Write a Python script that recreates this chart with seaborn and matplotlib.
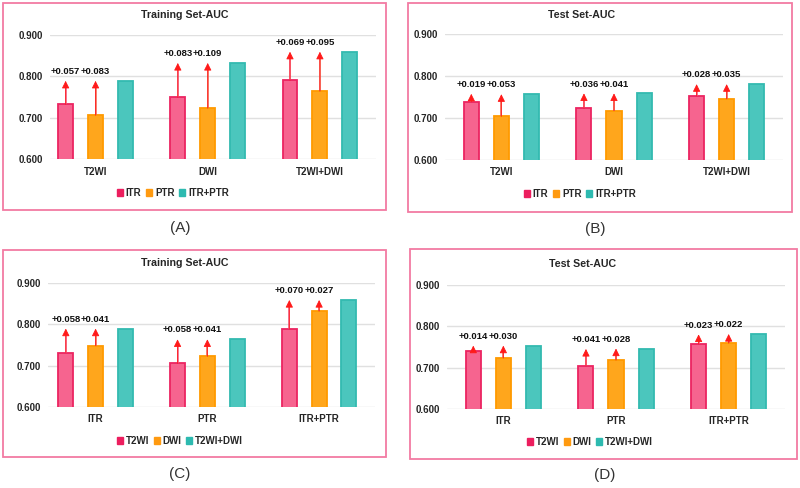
import numpy as np
import pandas as pd
import matplotlib
matplotlib.use("Agg")
import matplotlib.pyplot as plt
import seaborn as sns
from matplotlib.patches import Rectangle, Patch

# Panels A/B: grouped by sequence, series = radiomics region
seq_cats = ["T2WI", "DWI", "T2WI+DWI"]
region_series = ["ITR", "PTR", "ITR+PTR"]

train_itr = [0.732, 0.749, 0.790]
train_ptr = [0.706, 0.723, 0.764]
train_itr_ptr = [0.789, 0.832, 0.859]
train_itr_gain = [0.057, 0.083, 0.069]
train_ptr_gain = [0.083, 0.109, 0.095]

test_itr = [0.739, 0.723, 0.753]
test_ptr = [0.704, 0.718, 0.746]
test_itr_ptr = [0.757, 0.759, 0.781]
test_itr_gain = [0.019, 0.036, 0.028]
test_ptr_gain = [0.053, 0.041, 0.035]

# Panels C/D: grouped by region, series = sequence
region_cats = ["ITR", "PTR", "ITR+PTR"]
seq_series = ["T2WI", "DWI", "T2WI+DWI"]

train_t2wi = [0.732, 0.706, 0.789]
train_dwi = [0.749, 0.723, 0.832]
train_t2wi_dwi = [0.790, 0.764, 0.859]
train_t2wi_gain = [0.058, 0.058, 0.070]
train_dwi_gain = [0.041, 0.041, 0.027]

test_t2wi = [0.739, 0.704, 0.757]
test_dwi = [0.723, 0.718, 0.759]
test_t2wi_dwi = [0.753, 0.746, 0.781]
test_t2wi_gain = [0.014, 0.041, 0.023]
test_dwi_gain = [0.030, 0.028, 0.022]

yticks = [0.6, 0.7, 0.8, 0.9]

fills = ["#F6648F", "#FFA61C", "#4BC6BD"]
edges = ["#EC2461", "#FF9A00", "#33BAB0"]
legend_cols = ["#EC1E5E", "#FF9A10", "#2DBAB0"]
arrow_line = ["#F2537A", "#F4604A"]
grid_col = "#E0E0E0"
text_col = "#262626"

sns.set_theme(style="white")
plt.rcParams["font.family"] = ["Liberation Sans", "DejaVu Sans"]

fig = plt.figure(figsize=(8, 4.88), dpi=100)


def make_df(cats, series, values):
    rows = []
    for s, vals in zip(series, values):
        for c, v in zip(cats, vals):
            rows.append({"cat": c, "series": s, "auc": v})
    return pd.DataFrame(rows)


def draw_panel(rect, xlim, cats, series, values, gains, title, title_xy,
               legend_xy, cat_y, box, letter, letter_xy):
    ax = fig.add_axes(rect)
    df = make_df(cats, series, values)
    sns.barplot(data=df, x="cat", y="auc", hue="series", order=cats,
                hue_order=series, palette=fills, saturation=1, width=0.8,
                gap=0.5, ax=ax, legend=False, zorder=3)
    for i, cont in enumerate(ax.containers):
        for p in cont.patches:
            p.set_edgecolor(edges[i])
            p.set_linewidth(1.3)

    # improvement arrows on the two single-source series
    for i in range(2):
        for j, p in enumerate(ax.containers[i].patches):
            x = p.get_x() + p.get_width() / 2
            v = values[i][j]
            g = gains[i][j]
            ax.annotate("", xy=(x, v + g), xytext=(x, v),
                        arrowprops=dict(arrowstyle="-|>,head_length=0.5,head_width=0.25",
                                        edgecolor="#FF1A1A", facecolor="#FF1A1A",
                                        lw=0.6, mutation_scale=9,
                                        shrinkA=0, shrinkB=0), zorder=5)
            ax.vlines(x, v, v + g - 0.008, color=arrow_line[i], lw=1.1, zorder=4)
            ax.annotate(f"+{g:.3f}", xy=(x, v + g), xytext=(0, 3.5),
                        textcoords="offset points", ha="center", va="bottom",
                        fontsize=6.8, fontweight="bold", color="#111111")

    ax.set_ylim(0.6, 0.9)
    ax.set_xlim(*xlim)
    ax.set_yticks(yticks)
    ax.set_yticklabels([f"{t:.3f}" for t in yticks], fontsize=7,
                       fontweight="bold", color=text_col)
    ax.yaxis.grid(True, color=grid_col, lw=1, zorder=0)
    ax.set_axisbelow(True)
    ax.tick_params(axis="y", length=0, pad=5)
    ax.set_xticks([])
    ax.set_xlabel("")
    ax.set_ylabel("")
    sns.despine(ax=ax, left=True, bottom=True)
    ax.patch.set_alpha(0)

    # category labels below the baseline
    for k, c in enumerate(cats):
        xf = ax.transData.transform((k, 0.6))[0] / fig.bbox.width
        fig.text(xf, 1 - cat_y / 488, c, ha="center", va="center",
                 fontsize=7, fontweight="bold", color=text_col)

    fig.text(title_xy[0] / 800, 1 - title_xy[1] / 488, title, ha="center",
             va="center", fontsize=7.7, fontweight="bold", color=text_col)

    handles = [Patch(facecolor=legend_cols[i], edgecolor=legend_cols[i],
                     label=series[i]) for i in range(3)]
    ax.legend(handles=handles, loc="center",
              bbox_to_anchor=(legend_xy[0] / 800, 1 - legend_xy[1] / 488),
              bbox_transform=fig.transFigure, ncol=3, frameon=False,
              handlelength=0.6, handleheight=0.6, handletextpad=0.3,
              columnspacing=0.5, prop={"size": 7, "weight": "bold"})
    for t in ax.get_legend().get_texts():
        t.set_color(text_col)

    x0, y0, x1, y1 = box
    fig.add_artist(Rectangle((x0 / 800, 1 - y1 / 488), (x1 - x0) / 800,
                             (y1 - y0) / 488, transform=fig.transFigure,
                             fill=False, edgecolor="#F27BA3", lw=1.3))
    fig.text(letter_xy[0] / 800, 1 - letter_xy[1] / 488, letter, ha="center",
             va="center", fontsize=11, color="#333333")


draw_panel([50 / 800, 1 - 159.3 / 488, 326 / 800, 124.6 / 488], (-0.406, 2.5),
           seq_cats, region_series, [train_itr, train_ptr, train_itr_ptr],
           [train_itr_gain, train_ptr_gain], "Training Set-AUC", (185, 15),
           (173, 193), 172, (3, 3, 386, 210), "(A)", (180, 228))

draw_panel([445 / 800, 1 - 160 / 488, 338 / 800, 125.7 / 488], (-0.5, 2.5),
           seq_cats, region_series, [test_itr, test_ptr, test_itr_ptr],
           [test_itr_gain, test_ptr_gain], "Test Set-AUC", (582, 15),
           (580, 194), 172, (408, 3, 792, 212), "(B)", (595, 229))

draw_panel([48 / 800, 1 - 407.3 / 488, 327 / 800, 124.3 / 488], (-0.426, 2.5),
           region_cats, seq_series, [train_t2wi, train_dwi, train_t2wi_dwi],
           [train_t2wi_gain, train_dwi_gain], "Training Set-AUC", (185, 263),
           (180, 441), 419, (3, 250, 386, 457), "(C)", (180, 474))

draw_panel([447 / 800, 1 - 409 / 488, 338 / 800, 124.3 / 488], (-0.5, 2.5),
           region_cats, seq_series, [test_t2wi, test_dwi, test_t2wi_dwi],
           [test_t2wi_gain, test_dwi_gain], "Test Set-AUC", (583, 264),
           (590, 442), 421, (410, 249, 797, 459), "(D)", (605, 475))

fig.savefig("out.png", dpi=100)
